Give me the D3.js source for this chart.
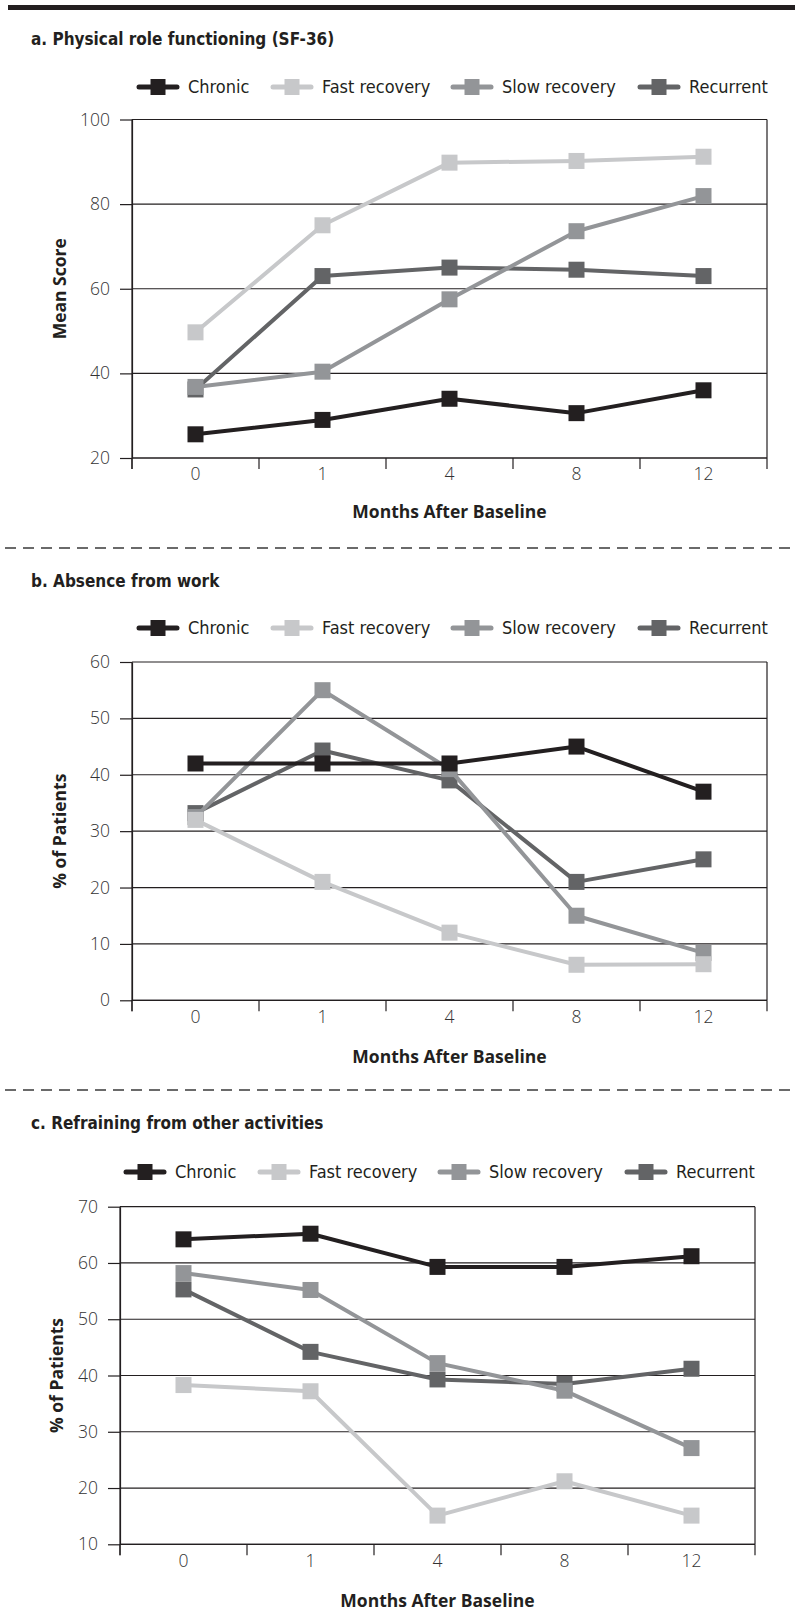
<!DOCTYPE html>
<html>
<head>
<meta charset="utf-8">
<script src="https://cdn.jsdelivr.net/npm/d3@7"></script>
<style>
  html, body { margin: 0; padding: 0; background: #fff; }
  svg { display: block; }
</style>
</head>
<body>
<div id="chart"></div>
<script>
// ---------- data ----------
const months = ["0", "1", "4", "8", "12"];
const seriesNames = ["Chronic", "Fast recovery", "Slow recovery", "Recurrent"];

const physChronic   = [25.6, 29, 34, 30.6, 36];
const physFast      = [49.7, 75, 89.8, 90.2, 91.2];
const physSlow      = [36.8, 40.4, 57.5, 73.6, 81.9];
const physRecurrent = [36.2, 63, 65, 64.5, 63];
const physTicks     = [20, 40, 60, 80, 100];

const absChronic    = [42, 42, 42, 45, 37];
const absFast       = [32, 21, 12, 6.3, 6.4];
const absSlow       = [32.5, 55, 41, 15, 8.4];
const absRecurrent  = [33.2, 44.3, 39, 21, 25];
const absTicks      = [0, 10, 20, 30, 40, 50, 60];

const refChronic    = [64.2, 65.2, 59.3, 59.3, 61.2];
const refFast       = [38.3, 37.2, 15.1, 21.2, 15.1];
const refSlow       = [58.2, 55.2, 42.2, 37.3, 27.1];
const refRecurrent  = [55.3, 44.2, 39.3, 38.5, 41.2];
const refTicks      = [10, 20, 30, 40, 50, 60, 70];

const titles = ["a. Physical role functioning (SF-36)", "b. Absence from work", "c. Refraining from other activities"];
const yTitles = ["Mean Score", "% of Patients", "% of Patients"];
const xTitle = "Months After Baseline";

// ---------- styles ----------
const colors = ["#231f20", "#c7c8ca", "#939598", "#636466"];
const condensed = "'Liberation Sans Narrow', 'DejaVu Sans Condensed', 'Open Sans', sans-serif";
const plainFont = "'Open Sans', 'DejaVu Sans', sans-serif";
const ink = "#231f20";

const W = 795, H = 1623;
const svg = d3.select("#chart").append("svg").attr("width", W).attr("height", H);

// top rule
svg.append("rect").attr("x", 8).attr("y", 5).attr("width", W - 8).attr("height", 5).attr("fill", ink);

// dashed separators
[548, 1090].forEach(yy => {
  svg.append("line").attr("x1", 5).attr("x2", W).attr("y1", yy).attr("y2", yy)
    .attr("stroke", "#3a3a3a").attr("stroke-width", 1.6).attr("stroke-dasharray", "11,7");
});

const panels = [
  { values: [physChronic, physFast, physSlow, physRecurrent], ticks: physTicks,
    left: 132, right: 767, top: 119.5, bottom: 458, titleY: 45, legendY: 87, legendShift: 0, yTitleX: 60, xTitleGap: 54 },
  { values: [absChronic, absFast, absSlow, absRecurrent], ticks: absTicks,
    left: 132, right: 767, top: 662, bottom: 1000.3, titleY: 587, legendY: 628, legendShift: 0, yTitleX: 60, xTitleGap: 57 },
  { values: [refChronic, refFast, refSlow, refRecurrent], ticks: refTicks,
    left: 120, right: 755, top: 1206.7, bottom: 1544.3, titleY: 1129, legendY: 1172, legendShift: -13, yTitleX: 57, xTitleGap: 57 }
];

const legendMarkers = [158, 292, 472, 659];

panels.forEach((p, pi) => {
  const g = svg.append("g");

  // panel title
  g.append("text").attr("x", 31).attr("y", p.titleY)
    .attr("font-family", condensed).attr("font-weight", "bold").attr("font-size", 17)
    .attr("fill", ink).text(titles[pi]);

  // legend
  seriesNames.forEach((name, si) => {
    const cx = legendMarkers[si] + p.legendShift;
    const lg = g.append("g");
    lg.append("line").attr("x1", cx - 19).attr("x2", cx + 19).attr("y1", p.legendY).attr("y2", p.legendY)
      .attr("stroke", colors[si]).attr("stroke-width", 5).attr("stroke-linecap", "round");
    lg.append("rect").attr("x", cx - 7.5).attr("y", p.legendY - 8).attr("width", 15).attr("height", 16)
      .attr("fill", colors[si]);
    lg.append("text").attr("x", cx + 30).attr("y", p.legendY).attr("dy", "0.35em")
      .attr("font-family", condensed).attr("font-weight", 300).attr("font-size", 18).attr("fill", ink).text(name);
  });

  const x = d3.scaleBand().domain(months).range([p.left, p.right]).padding(0);
  const y = d3.scaleLinear().domain(d3.extent(p.ticks)).range([p.bottom, p.top]);

  // gridlines
  g.append("g").selectAll("line").data(p.ticks).join("line")
    .attr("x1", p.left).attr("x2", p.right)
    .attr("y1", d => y(d)).attr("y2", d => y(d))
    .attr("stroke", ink).attr("stroke-width", 1.2);

  // right border
  g.append("line").attr("x1", p.right).attr("x2", p.right).attr("y1", p.top).attr("y2", p.bottom)
    .attr("stroke", ink).attr("stroke-width", 1.2);

  // y axis
  const yAxis = g.append("g").attr("transform", `translate(${p.left},0)`)
    .call(d3.axisLeft(y).tickValues(p.ticks).tickSize(12).tickSizeOuter(0).tickPadding(10));
  yAxis.select(".domain").attr("stroke", ink).attr("stroke-width", 1.2);
  yAxis.selectAll(".tick line").attr("stroke", ink).attr("stroke-width", 1.2);
  yAxis.selectAll("text").attr("font-family", plainFont).attr("font-weight", 300).attr("font-size", 17.5).attr("fill", "#333");

  // x axis: labels at band centers, tick marks at band boundaries
  const xAxis = g.append("g").attr("transform", `translate(0,${p.bottom})`)
    .call(d3.axisBottom(x).tickSize(0).tickSizeOuter(0).tickPadding(10));
  xAxis.select(".domain").remove();
  xAxis.selectAll("text").attr("font-family", plainFont).attr("font-weight", 300).attr("font-size", 17.5).attr("fill", "#333");
  const bounds = months.map(m => x(m)).concat([x(months[months.length - 1]) + x.bandwidth()]);
  g.append("g").selectAll("line").data(bounds).join("line")
    .attr("x1", d => d).attr("x2", d => d)
    .attr("y1", p.bottom).attr("y2", p.bottom + 11)
    .attr("stroke", ink).attr("stroke-width", 1.2);
  g.append("line").attr("x1", p.left).attr("x2", p.right).attr("y1", p.bottom).attr("y2", p.bottom)
    .attr("stroke", ink).attr("stroke-width", 1.2);
  g.append("line").attr("x1", p.left).attr("x2", p.left).attr("y1", p.top).attr("y2", p.bottom + 11)
    .attr("stroke", ink).attr("stroke-width", 1.2);

  // axis titles
  g.append("text")
    .attr("transform", `translate(${p.yTitleX},${(p.top + p.bottom) / 2}) rotate(-90)`)
    .attr("text-anchor", "middle").attr("dy", "0.35em")
    .attr("font-family", plainFont).attr("font-weight", "bold").attr("font-size", 17.5)
    .attr("fill", ink).text(yTitles[pi]);
  g.append("text")
    .attr("x", (p.left + p.right) / 2).attr("y", p.bottom + p.xTitleGap)
    .attr("text-anchor", "middle").attr("dy", "0.35em")
    .attr("font-family", plainFont).attr("font-weight", "bold").attr("font-size", 17.5)
    .attr("fill", ink).text(xTitle);

  // series: drawn in reverse order so Chronic sits on top
  const line = d3.line().x((d, i) => x(months[i]) + x.bandwidth() / 2).y(d => y(d));
  [3, 2, 1, 0].forEach(si => {
    const vals = p.values[si];
    const sg = g.append("g");
    sg.append("path").datum(vals).attr("d", line).attr("fill", "none")
      .attr("stroke", colors[si]).attr("stroke-width", 4).attr("stroke-linejoin", "round");
    sg.selectAll("rect").data(vals).join("rect")
      .attr("x", (d, i) => x(months[i]) + x.bandwidth() / 2 - 8)
      .attr("y", d => y(d) - 8)
      .attr("width", 16).attr("height", 16)
      .attr("fill", colors[si]);
  });
});
</script>
</body>
</html>
